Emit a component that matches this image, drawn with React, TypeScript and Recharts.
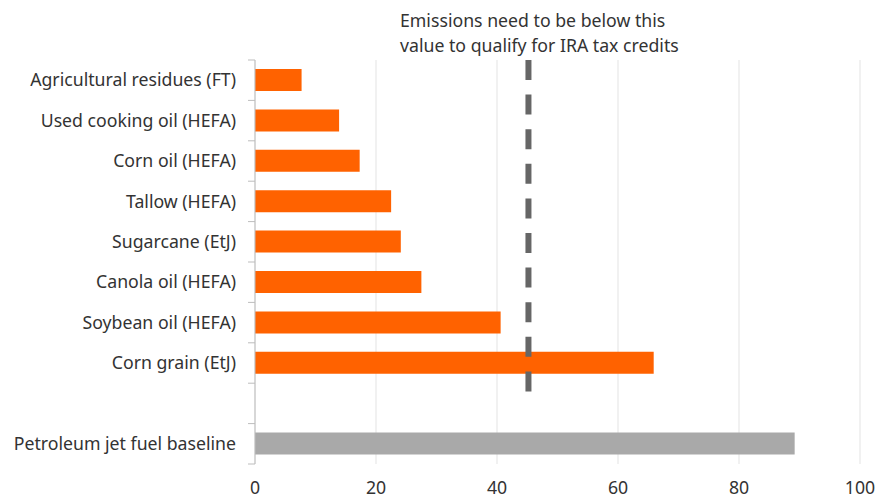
import React from 'react';
import { BarChart, Bar, XAxis, YAxis, CartesianGrid, ReferenceLine } from 'recharts';

// Lifecycle emissions by SAF pathway (gCO2e/MJ)
const categories = [
  'Agricultural residues (FT)',
  'Used cooking oil (HEFA)',
  'Corn oil (HEFA)',
  'Tallow (HEFA)',
  'Sugarcane (EtJ)',
  'Canola oil (HEFA)',
  'Soybean oil (HEFA)',
  'Corn grain (EtJ)',
  '',
  'Petroleum jet fuel baseline',
];
const pathwayValues = [7.7, 13.9, 17.3, 22.5, 24.1, 27.5, 40.6, 65.9, null, null];
const baselineValues = [null, null, null, null, null, null, null, null, null, 89.2];
const xTicks = [0, 20, 40, 60, 80, 100];
const creditThreshold = 45.2;
const noteLines = ['Emissions need to be below this', 'value to qualify for IRA tax credits'];

const data = categories.map((name, i) => ({
  name,
  pathway: pathwayValues[i],
  baseline: baselineValues[i],
}));

const FONT = '"Noto Sans", sans-serif';
const FONT_SIZE = 17.7;
const TEXT = '#333333';
const AXIS = '#bdbdbd';
const LABEL_GAP = 19;

// The threshold line stops in the middle of the spacer row.
const spacerIndex = categories.indexOf('');
const thresholdFraction = (spacerIndex + 0.5) / categories.length;

// Category label at the band centre, with tick marks on the band edges.
function RowTick(props: any) {
  const { x, y, payload, index } = props;
  const half = payload && payload.offset ? payload.offset : 20.2;
  const axisX = x + LABEL_GAP;
  return (
    <g>
      <line x1={axisX - 7} x2={axisX} y1={y - half} y2={y - half} stroke={AXIS} />
      {index === categories.length - 1 && (
        <line x1={axisX - 7} x2={axisX} y1={y + half} y2={y + half} stroke={AXIS} />
      )}
      <text x={x} y={y} dy="0.355em" textAnchor="end" fill={TEXT} fontSize={FONT_SIZE} fontFamily={FONT}>
        {payload.value}
      </text>
    </g>
  );
}

function ThresholdLine(props: any) {
  const { x1, x2, y1, y2 } = props;
  const top = Math.min(y1, y2);
  const bottom = Math.max(y1, y2);
  return (
    <line
      x1={x1}
      x2={x2}
      y1={top}
      y2={top + (bottom - top) * thresholdFraction}
      stroke="#666666"
      strokeWidth={6}
      strokeDasharray="20 14.6"
    />
  );
}

export default function App() {
  return (
    <div style={{ position: 'absolute', left: 0, top: 0, width: 878, height: 498, background: '#fff', fontFamily: FONT }}>
      <BarChart
        width={878}
        height={498}
        data={data}
        layout="vertical"
        margin={{ top: 60, right: 18, left: 0, bottom: 0 }}
        barSize={22}
      >
        <CartesianGrid horizontal={false} stroke="#e3e3e3" />
        <XAxis
          type="number"
          domain={[0, 100]}
          ticks={xTicks}
          axisLine={false}
          tickLine={false}
          tickMargin={11}
          height={34}
          tick={{ fill: TEXT, fontSize: FONT_SIZE, fontFamily: FONT }}
        />
        <YAxis
          type="category"
          dataKey="name"
          width={255}
          axisLine={{ stroke: AXIS }}
          tickLine={false}
          tickSize={0}
          tickMargin={LABEL_GAP}
          interval={0}
          tick={<RowTick />}
        />
        <Bar dataKey="pathway" stackId="s" fill="#ff6200" isAnimationActive={false} />
        <Bar dataKey="baseline" stackId="s" fill="#a9a9a9" isAnimationActive={false} />
        <ReferenceLine x={creditThreshold} shape={<ThresholdLine />} />
      </BarChart>
      <div
        style={{
          position: 'absolute',
          left: 400,
          top: 8,
          fontSize: FONT_SIZE,
          lineHeight: '25px',
          color: TEXT,
          fontFamily: FONT,
          whiteSpace: 'nowrap',
        }}
      >
        {noteLines.map((l) => (
          <div key={l}>{l}</div>
        ))}
      </div>
    </div>
  );
}
